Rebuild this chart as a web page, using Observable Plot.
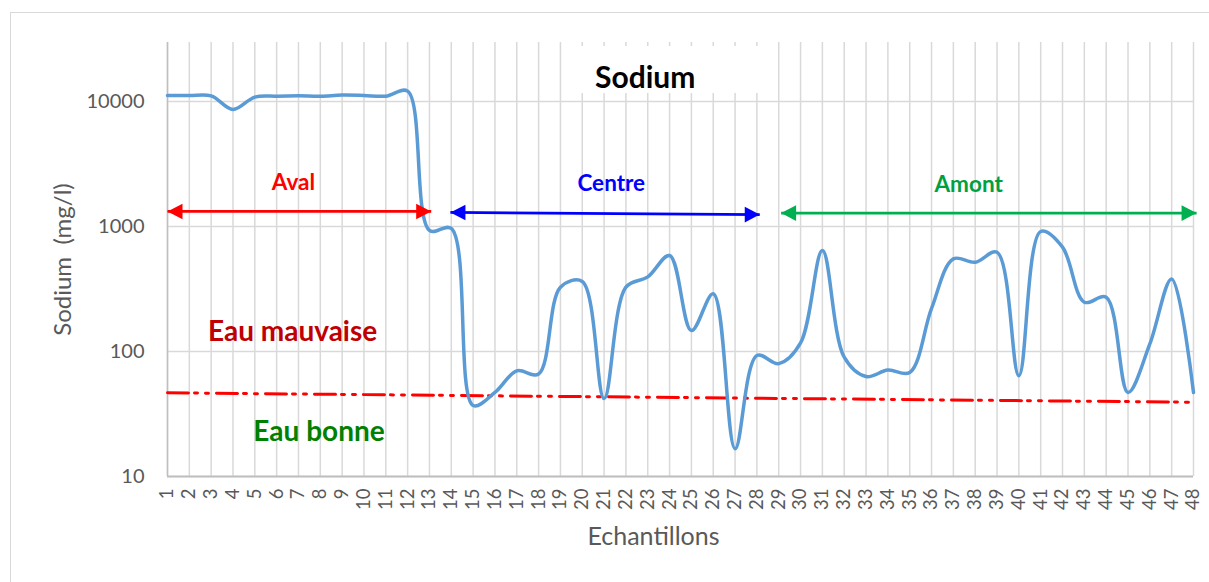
<!DOCTYPE html>
<html>
<head>
<meta charset="utf-8">
<script src="https://cdn.jsdelivr.net/npm/d3@7"></script>
<script src="https://cdn.jsdelivr.net/npm/@observablehq/plot@0.6"></script>
<style>
  html, body { margin: 0; padding: 0; background: white; }
  body { width: 1209px; height: 582px; overflow: hidden; position: relative; font-family: Lato, "Open Sans", sans-serif; }
  #frame { position: absolute; left: 10px; top: 12px; width: 1300px; height: 700px; border: 1.5px solid #d9d9d9; box-sizing: border-box; pointer-events: none; }
  #chart { position: absolute; left: 0; top: 0; }
  #titlebox { position: absolute; left: 570px; top: 46px; width: 197px; height: 47px; background: white; }
  #title { position: absolute; left: 25px; top: 15px; text-align: left; font: bold 30px Lato, sans-serif; line-height: 1; color: #000; white-space: nowrap; }
</style>
</head>
<body>
<div id="frame"></div>
<div id="chart"></div>
<div id="titlebox"><div id="title">Sodium</div></div>
<script>
// ---- data ----
const samples = d3.range(1, 49);
const sodium = [
  11170, 11170, 11100, 8630, 10850, 11030, 11100, 11030, 11250, 11170,
  11030, 12100, 930, 965, 37, 47, 70, 66, 327, 363,
  42, 327, 395, 586, 147, 290, 16.7, 93, 80, 117,
  643, 90, 63, 71, 68, 221, 551, 518, 622, 64,
  912, 683, 248, 272, 47, 115, 381, 47
];
const thresholdSamples = [1, 48];
const thresholdValues = [46.7, 39.3];

const zoneNames = ["Aval", "Centre", "Amont"];
const zoneStart = [1, 13.96, 29.11];
const zoneEnd = [13.08, 28.13, 48.14];
const zoneStartValue = [1320, 1295, 1280];
const zoneEndValue = [1320, 1245, 1280];
const zoneLabelX = [6.77, 21.33, 37.7];
const zoneLabelValue = [2250, 2210, 2170];
const zoneArrowColors = ["#ff0000", "#0000ff", "#00b050"];
const zoneTextColors = ["#ff0000", "#0000ff", "#00a040"];

const qualityLabels = ["Eau mauvaise", "Eau bonne"];
const qualityX = [6.73, 7.94];
const qualityValue = [142, 22.6];
const qualityColors = ["#c00000", "#008000"];

const yTicks = [10, 100, 1000, 10000];

// ---- tables built from arrays ----
const series = samples.map((s, i) => ({sample: s, value: sodium[i]}));
const threshold = thresholdSamples.map((s, i) => ({sample: s, value: thresholdValues[i]}));
const zones = zoneNames.map((n, i) => ({
  name: n, start: zoneStart[i], end: zoneEnd[i],
  startValue: zoneStartValue[i], endValue: zoneEndValue[i],
  lx: zoneLabelX[i], ly: zoneLabelValue[i],
  color: zoneArrowColors[i], textColor: zoneTextColors[i]
}));
const quality = qualityLabels.map((t, i) => ({text: t, x: qualityX[i], y: qualityValue[i], color: qualityColors[i]}));

const headRight = {draw(ctx) { ctx.moveTo(0, 0); ctx.lineTo(-15, -7.8); ctx.lineTo(-15, 7.8); ctx.closePath(); }};
const headLeft = {draw(ctx) { ctx.moveTo(0, 0); ctx.lineTo(15, -7.8); ctx.lineTo(15, 7.8); ctx.closePath(); }};

const chart = Plot.plot({
  width: 1209,
  height: 582,
  marginLeft: 167,
  marginRight: 16,
  marginTop: 42,
  marginBottom: 106,
  style: {background: "transparent", fontFamily: "Lato, 'Open Sans', sans-serif", color: "#595959"},
  x: {type: "linear", domain: [1, 48]},
  y: {type: "log", domain: [10, 29650]},
  marks: [
    Plot.gridX(samples, {stroke: "#d9d9d9", strokeOpacity: 1, strokeWidth: 1.5}),
    Plot.gridY(yTicks, {stroke: "#d9d9d9", strokeOpacity: 1, strokeWidth: 1.5}),
    Plot.ruleX([1], {stroke: "#bfbfbf", strokeWidth: 1.5}),
    Plot.ruleY([10], {stroke: "#bfbfbf", strokeWidth: 2}),
    Plot.axisX(samples, {anchor: "bottom", tickSize: 0, tickPadding: 12, tickRotate: -90, fontSize: 18.5, fill: "#595959", tickFormat: d => String(d), label: null}),
    Plot.axisY(yTicks, {anchor: "left", tickSize: 0, tickPadding: 23, fontSize: 20, fill: "#595959", tickFormat: d => String(d), label: null}),
    Plot.text(["Sodium\u00a0\u00a0(mg/l)"], {frameAnchor: "left", textAnchor: "middle", lineAnchor: "middle", dx: -104, rotate: -90, fontSize: 24, fill: "#595959"}),
    Plot.text(["Echantillons"], {frameAnchor: "bottom", textAnchor: "middle", lineAnchor: "middle", dx: -27, dy: 60, fontSize: 25, fill: "#595959"}),
    Plot.line(threshold, {x: "sample", y: "value", stroke: "#ff0000", strokeWidth: 3, strokeDasharray: "21,6,3,8,3,8"}),
    Plot.line(series, {x: "sample", y: "value", curve: "catmull-rom", stroke: "#5b9bd5", strokeWidth: 3.5}),
    Plot.link(zones, {x1: "start", y1: "startValue", x2: "end", y2: "endValue", stroke: "color", strokeWidth: 2.7}),
    Plot.dot(zones, {x: "end", y: "endValue", symbol: headRight, fill: "color", r: 6}),
    Plot.dot(zones, {x: "start", y: "startValue", symbol: headLeft, fill: "color", r: 6}),
    Plot.text(zones, {x: "lx", y: "ly", text: "name", fill: "textColor", fontSize: 22.5, fontWeight: "bold"}),
    Plot.text(quality, {x: "x", y: "y", text: "text", fill: "color", fontSize: 28, fontWeight: "bold"})
  ]
});
document.getElementById("chart").appendChild(chart);
</script>
</body>
</html>
